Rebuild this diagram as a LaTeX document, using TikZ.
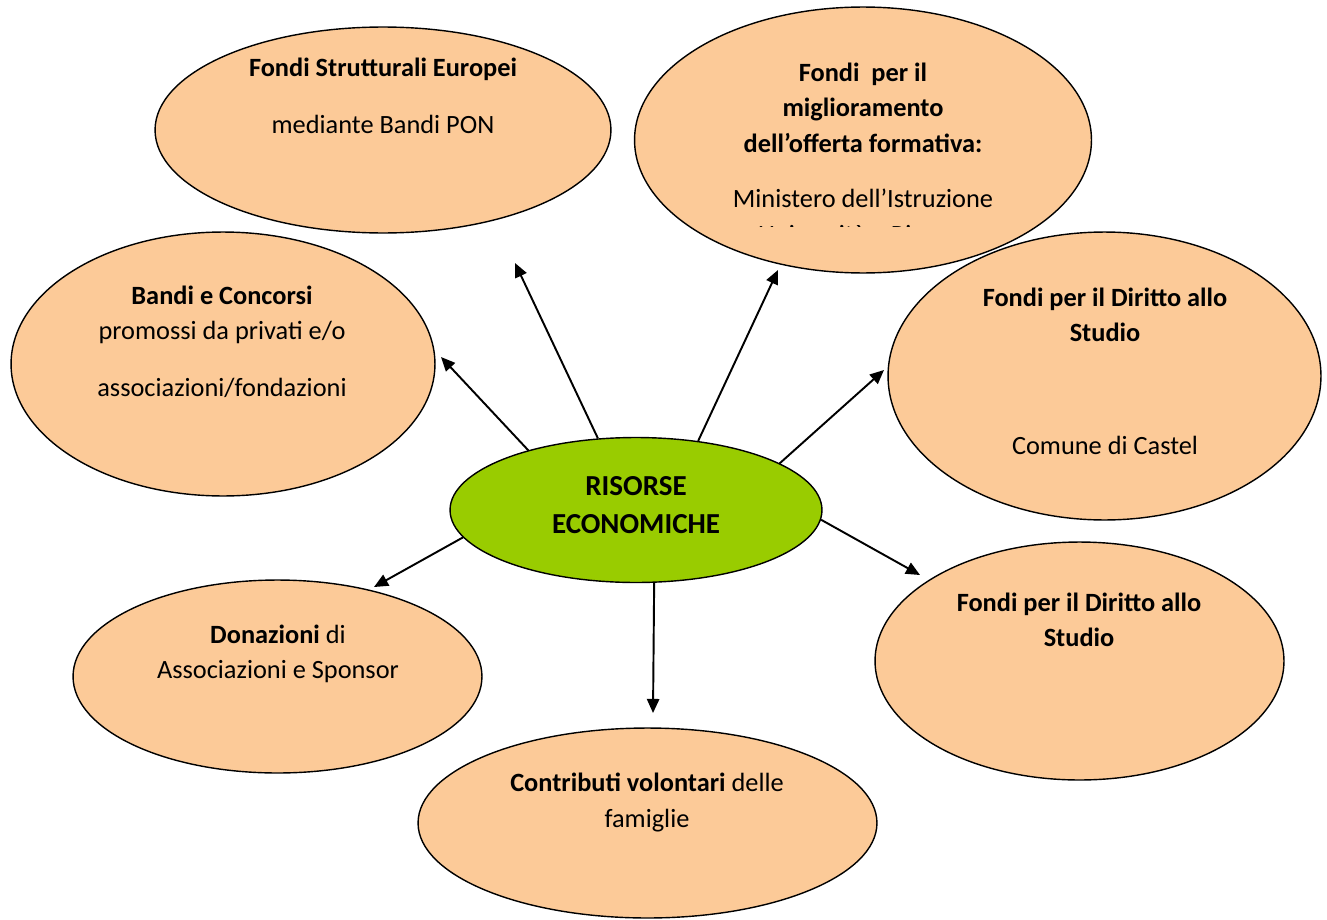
\documentclass[tikz,border=0pt]{standalone}
\usepackage{fontspec}
\setmainfont{Carlito}
\usetikzlibrary{arrows.meta,shapes.geometric}
\definecolor{peach}{HTML}{FCCA98}
\definecolor{leaf}{HTML}{99CC00}
\tikzset{
  fund/.style={ellipse, draw=black, line width=0.8pt, fill=peach, inner sep=0pt},
  txt/.style={align=center, font=\fontsize{15}{20}\selectfont, inner sep=0pt, anchor=north},
  link/.style={line width=1.1pt, -{Triangle[length=8pt,width=7pt]}}
}
\begin{document}
\begin{tikzpicture}[x=0.02cm,y=-0.02cm]
    \useasboundingbox (0,0) rectangle (1327,919);
    % Outer ellipses
    \node[fund, minimum width=9.12cm, minimum height=4.12cm] (strut) at (383,130) {};
    \node[fund, minimum width=8.48cm, minimum height=5.28cm] (bandi) at (223,364) {};
    \node[fund, minimum width=8.66cm, minimum height=5.76cm] (dirit) at (1104.5,376) {};
    \node[fund, minimum width=9.14cm, minimum height=5.32cm] (migl) at (863,140) {};
    \node[fund, minimum width=8.18cm, minimum height=3.86cm] (donaz) at (277.5,676.5) {};
    \node[fund, minimum width=8.18cm, minimum height=4.76cm] (dirdue) at (1079.5,661) {};
    \node[fund, minimum width=9.18cm, minimum height=3.80cm] (contr) at (647.5,823) {};
    % Central ellipse
    \node[ellipse, draw=black, line width=0.8pt, fill=leaf, inner sep=0pt,
          minimum width=7.44cm, minimum height=2.90cm] (risorse) at (636,510) {};
    \node[align=center, font=\fontsize{16.5}{21.6}\selectfont\bfseries] (risT) at (636,505) {RISORSE\\ECONOMICHE};
    % Texts
    \node[txt] (strutT) at (383,58) {\textbf{Fondi Strutturali Europei}\\[12pt] mediante Bandi PON};
    \node[txt] (miglT) at (863,63) {\textbf{Fondi\ \ per il}\\ \textbf{miglioramento}\\ \textbf{dell’offerta formativa:}};
    \begin{scope}
      \clip (680,180) rectangle (1050,226);
      \node[txt] (miglU) at (863,189) {Ministero dell’Istruzione\\ Università e Ricerca};
    \end{scope}
    \node[txt] (bandiT) at (222,286) {\textbf{Bandi e Concorsi}\\ promossi da privati e/o\\[12pt] associazioni/fondazioni};
    \node[txt] (diritT) at (1105,288) {\textbf{Fondi per il Diritto allo}\\ \textbf{Studio}\\[44pt] Comune di Castel};
    \node[txt] (donazT) at (278,625) {\textbf{Donazioni} di\\ Associazioni e Sponsor};
    \node[txt] (dirdueT) at (1079,593) {\textbf{Fondi per il Diritto allo}\\ \textbf{Studio}};
    \node[txt] (contrT) at (647,773) {\textbf{Contributi volontari} delle\\ famiglie};
    % Arrow tips
    \coordinate (tipBandi) at (441,357);
    \coordinate (tipStrut) at (515,263);
    \coordinate (tipMigl) at (778,270);
    \coordinate (tipDirit) at (884,370);
    \coordinate (tipDirdue) at (920,575);
    \coordinate (tipContr) at (653,713);
    \coordinate (tipDonaz) at (374,587);
    % Arrows
    \draw[link] (risorse.151.6) -- (tipBandi);
    \draw[link] (risorse.118) -- (tipStrut);
    \draw[link] (risorse.48.9) -- (tipMigl);
    \draw[link] (risorse.18.3) -- (tipDirit);
    \draw[link] (risorse.-3.4) -- (tipDirdue);
    \draw[link] (risorse.-76.7) -- (tipContr);
    \draw[link] (risorse.189) -- (tipDonaz);
\end{tikzpicture}
\end{document}
